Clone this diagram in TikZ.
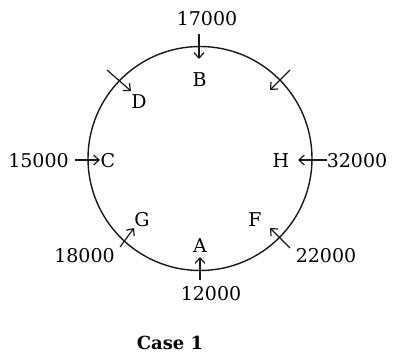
\documentclass[tikz,border=0pt]{standalone}
\usepackage{fontspec}
\setmainfont{DejaVu Serif}
\usetikzlibrary{arrows.meta}
\begin{document}
\begin{tikzpicture}[x=1pt,y=-1pt,
  lbl/.style={font=\fontsize{19}{22}\selectfont, inner sep=0pt, text=black},
  capt/.style={font=\fontsize{18}{22}\selectfont\bfseries, inner sep=0pt, text=black},
  arr/.style={line width=1.2pt, draw=black!90, -{Straight Barb[length=5.5pt,width=10pt]}},
  ring/.style={line width=1.4pt, draw=black!90}]
\useasboundingbox[fill=white] (0,0) rectangle (393,356);
\draw[ring] (200,158.5) circle[radius=112];
% letters
\node[lbl] (B) at (199.5,80) {B};
\node[lbl] (D) at (139,102) {D};
\node[lbl] (C) at (108,161) {C};
\node[lbl] (H) at (281,161) {H};
\node[lbl] (G) at (142,220) {G};
\node[lbl] (F) at (255,220) {F};
\node[lbl] (A) at (200,246) {A};
% numbers
\node[lbl] (n17) at (207,19) {17000};
\node[lbl] (n15) at (38.5,161) {15000};
\node[lbl] (n32) at (357,161) {32000};
\node[lbl] (n18) at (84.5,256) {18000};
\node[lbl] (n22) at (326,256) {22000};
\node[lbl] (n12) at (211,294) {12000};
\node[capt] (case) at (170,343) {Case 1};
% arrow ends
\coordinate (tB) at (199,34);  \coordinate (hB) at (199,59);
\coordinate (tD) at (107,70);  \coordinate (hD) at (131,91);
\coordinate (tR) at (290,70);  \coordinate (hR) at (270,90);
\coordinate (tC) at (75,160);  \coordinate (hC) at (100,160);
\coordinate (tH) at (327,160); \coordinate (hH) at (298,160);
\coordinate (tG) at (120,247); \coordinate (hG) at (134,228);
\coordinate (tF) at (290,248); \coordinate (hF) at (270,228);
\coordinate (tA) at (200,280); \coordinate (hA) at (200,257);
\draw[arr] (tB) -- (hB);
\draw[arr] (tD) -- (hD);
\draw[arr] (tR) -- (hR);
\draw[arr] (tC) -- (hC);
\draw[arr] (tH) -- (hH);
\draw[arr] (tG) -- (hG);
\draw[arr] (tF) -- (hF);
\draw[arr] (tA) -- (hA);
\end{tikzpicture}
\end{document}
